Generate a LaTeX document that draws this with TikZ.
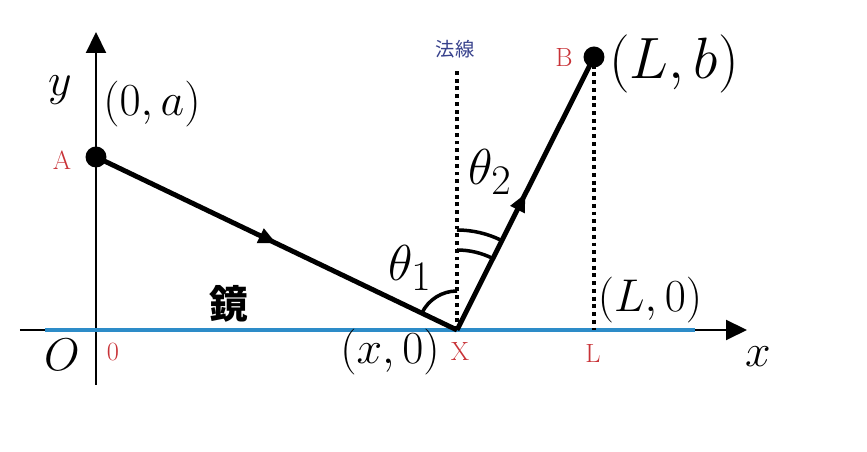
\documentclass[tikz,border=0pt]{standalone}
\usepackage{fontspec}
\newfontfamily\cjk{Noto Sans CJK JP}
\usetikzlibrary{arrows.meta,decorations.markings,positioning,calc}
\definecolor{mirror}{RGB}{45,140,200}
\definecolor{tagred}{RGB}{200,50,55}
\definecolor{normalblue}{RGB}{55,65,140}
\tikzset{
  axis/.style={line width=1.2pt,-{Triangle[length=0.42cm,width=0.40cm]}},
  ray/.style={line width=2.8pt,postaction={decorate},
    decoration={markings,mark=at position 0.5 with {\arrow{Triangle[length=0.36cm,width=0.30cm]}}}},
  guide/.style={line width=2pt,dash pattern=on 2.2pt off 2.2pt},
  dot/.style={circle,fill=black,inner sep=0pt,minimum size=0.42cm},
  tag/.style={text=tagred,font=\fontsize{15}{17}\selectfont},
  big/.style={font=\Huge,scale=1.05},
  anglearc/.style={line width=2pt}
}
\begin{document}
\begin{tikzpicture}[x=0.02cm,y=0.02cm]
  \useasboundingbox (-96,-122) rectangle (771,330);
  % points
  \coordinate (O) at (0,0);
  \coordinate (X) at (361,0);
  \coordinate (L) at (498,0);
  \coordinate (N) at (361,260);
  \coordinate (ytop) at (0,298);
  \coordinate (ybot) at (0,-55);
  \coordinate (xleft) at (-76,0);
  \coordinate (xright) at (651,0);
  \coordinate (mleft) at (-51,0);
  \coordinate (mright) at (599,0);
  \node[dot] (A) at (0,173) {};
  \node[dot] (B) at (498,273) {};
  % axes and mirror
  \draw[axis] (ybot) -- (ytop);
  \draw[axis] (xleft) -- (xright);
  \draw[mirror,line width=2.6pt] (mleft) -- (mright);
  % guides
  \draw[guide] (X) -- (N);
  \draw[guide] (B.center) -- (L);
  % rays
  \draw[ray] (A.center) -- (X);
  \draw[ray] (X) -- (B.center);
  % angles
  \draw[anglearc] ($(X)+(0,39)$) arc[start angle=90,end angle=154.4,radius=39];
  \draw[anglearc] ($(X)+(0,80)$) arc[start angle=90,end angle=63.3,radius=80];
  \draw[anglearc] ($(X)+(0,100)$) arc[start angle=90,end angle=63.3,radius=100];
  % labels
  \node[big] (ylab) at (-36,240) {$y$};
  \node[big] (Alab) at (56,226) {$(0,a)$};
  \node[tag] (Atag) at (-34,170) {A};
  \node[big,scale=1.27] (Blab) at (578,266) {$(L,b)$};
  \node[tag] (Btag) at (468,272) {B};
  \node[text=normalblue,font=\cjk\fontsize{11}{13}\selectfont] (Nlab) at (359,281) {法線};
  \node[big,scale=1.1] (th2) at (394,158) {$\theta_2$};
  \node[big,scale=1.1] (th1) at (314,62) {$\theta_1$};
  \node[font=\cjk\bfseries\fontsize{22}{26}\selectfont] (kagami) at (133,26) {鏡};
  \node[big] (Llab0) at (554,30) {$(L,0)$};
  \node[big] (Olab) at (-34,-25) {$O$};
  \node[tag] (Otag) at (17,-22) {0};
  \node[big] (Xlab) at (294,-22) {$(x,0)$};
  \node[tag] (Xtag) at (364,-22) {X};
  \node[tag] (Ltag) at (497,-24) {L};
  \node[big] (xlab) at (662,-27) {$x$};
\end{tikzpicture}
\end{document}
